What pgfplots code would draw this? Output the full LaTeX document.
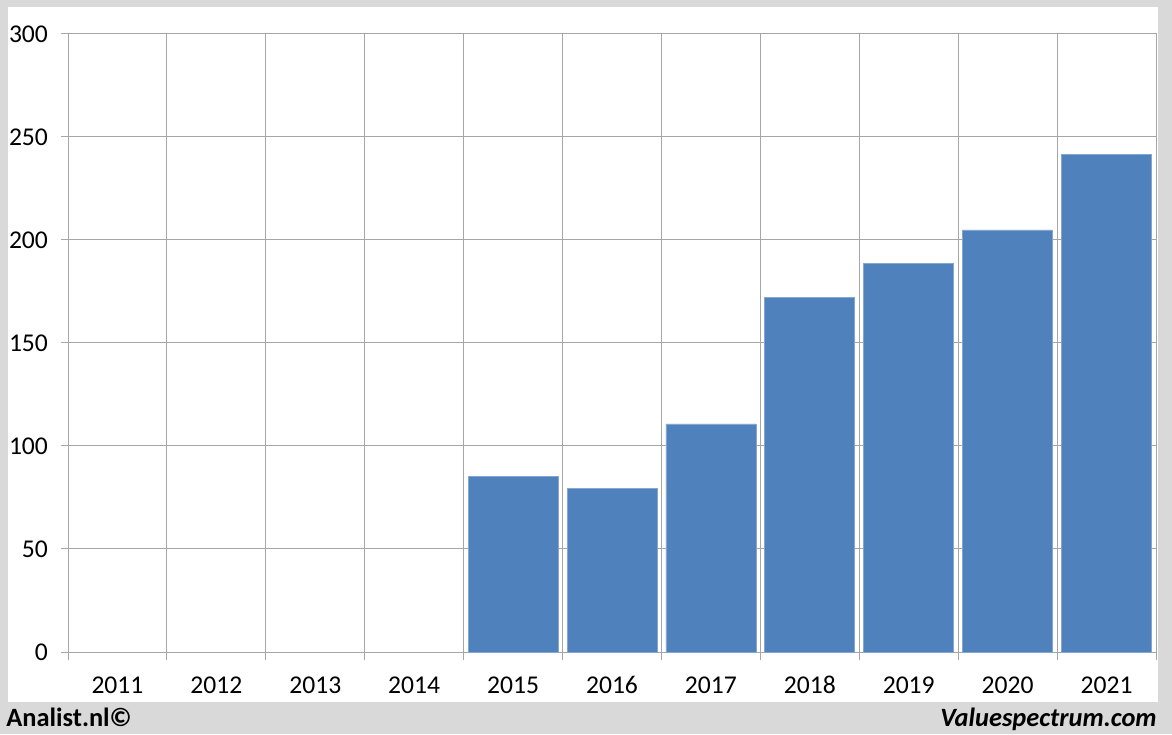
\documentclass[border=0pt]{standalone}
\usepackage{pgfplots}
\pgfplotsset{compat=1.18}
\usepackage{fontspec}
\setmainfont{Carlito}
\definecolor{barblue}{HTML}{4F81BD}
\definecolor{gridgray}{HTML}{A6A6A6}
\definecolor{framegray}{HTML}{D9D9D9}
\begin{document}
\begin{tikzpicture}[x=1pt,y=1pt]
  % 1 px of the reference = 0.5 pt
  \fill[framegray] (0,0) rectangle (586,367);
  \fill[white] (4,16) rectangle (579,363.5);
  \begin{axis}[
    at={(34pt,41pt)}, anchor=south west,
    scale only axis, width=544pt, height=309pt,
    xmin=-0.5, xmax=10.5, ymin=0, ymax=300,
    ybar, bar width=45pt, bar shift=0pt,
    xtick={0,...,10},
    xticklabels={2011,2012,2013,2014,2015,2016,2017,2018,2019,2020,2021},
    minor xtick={-0.5,0.5,...,10.5},
    ytick={0,50,...,300},
    xminorgrids, ymajorgrids,
    grid style={gridgray, line width=0.5pt},
    minor grid style={gridgray, line width=0.5pt},
    axis line style={gridgray, line width=0.5pt},
    tick align=outside,
    major tick length=3.5pt, minor tick length=4pt,
    major x tick style={draw=none},
    minor x tick style={gridgray, line width=0.5pt},
    major y tick style={gridgray, line width=0.5pt},
    xtick pos=bottom, ytick pos=left,
    /pgf/number format/assume math mode=true,
    tick label style={font=\fontsize{12.8}{14}\selectfont, text=black},
    yticklabel style={xshift=-3pt},
    xticklabel style={anchor=base, text height=9pt, text depth=0pt, yshift=-17pt},
  ]
    \addplot[fill=barblue, draw=barblue!70!white, line width=0.4pt] coordinates {
      (4,85.4) (5,79.6) (6,110.7) (7,172.3) (8,188.8) (9,204.9) (10,241.7)
    };
  \end{axis}
  \node[anchor=base west, inner sep=0pt, font=\fontsize{13.2}{15}\selectfont\bfseries] at (3,4) {Analist.nl©};
  \node[anchor=base east, inner sep=0pt, font=\fontsize{13.2}{15}\selectfont\bfseries\itshape] at (578.5,4) {Valuespectrum.com};
\end{tikzpicture}
\end{document}
